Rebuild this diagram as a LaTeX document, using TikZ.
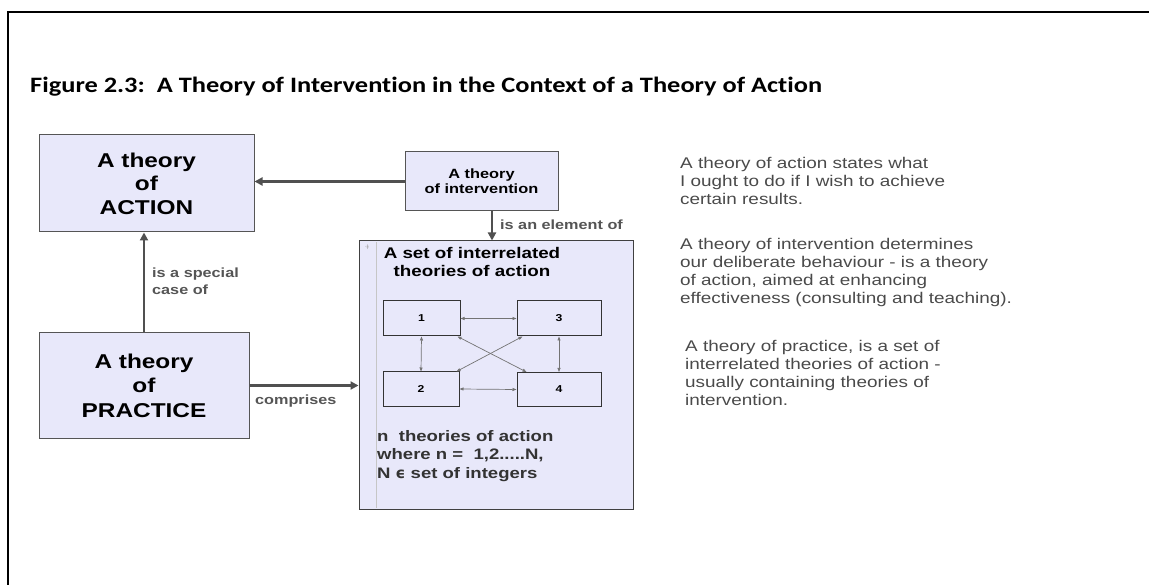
\documentclass[tikz,border=0pt]{standalone}
\usepackage{fontspec}
\setmainfont[FakeStretch=1.22]{Liberation Sans}
\newfontfamily\titlefont[FakeStretch=1.2,Ligatures=NoCommon]{Carlito}
\newfontfamily\markfont{DejaVu Sans}
\usetikzlibrary{arrows.meta,calc}

\definecolor{boxfill}{HTML}{E8E8FA}
\definecolor{boxline}{HTML}{555555}
\definecolor{arrowgray}{HTML}{505050}
\definecolor{labelgray}{HTML}{555555}
\definecolor{notegray}{HTML}{4A4A4A}

\tikzset{
  theorybox/.style={draw=boxline, fill=boxfill, line width=1pt, inner sep=0pt,
    align=center, font=\bfseries\fontsize{20}{23.5}\selectfont},
  interventionbox/.style={draw=boxline, fill=boxfill, line width=1pt, inner sep=0pt,
    align=center, font=\bfseries\fontsize{13.4}{15}\selectfont},
  setbox/.style={draw=black!75, fill=boxfill, line width=1pt, inner sep=0pt},
  numbox/.style={draw=black!80, fill=boxfill, line width=1pt, inner sep=0pt,
    font=\bfseries\fontsize{10}{12}\selectfont},
  bigarrow/.style={draw=arrowgray, line width=2.6pt, -{Triangle[length=8pt,width=8pt]}},
  smallarrow/.style={draw=gray!90!black, line width=0.7pt,
    {Triangle[length=4pt,width=3pt]}-{Triangle[length=4pt,width=3pt]}},
  linklabel/.style={text=labelgray, inner sep=0pt, align=left,
    font=\bfseries\fontsize{13.3}{17}\selectfont},
  note/.style={text=notegray, inner sep=0pt, align=left, anchor=north west,
    font=\fontsize{15.5}{18}\selectfont},
}

\begin{document}
\begin{tikzpicture}[x=1pt,y=-1pt]
  \useasboundingbox (0,0) rectangle (1149,585);
  \clip (0,0) rectangle (1149,585);

  % open frame along the top and left edges
  \draw[line width=2pt] (8,600) -- (8,12) -- (1160,12);

  % heading
  \node[anchor=base west, inner sep=0pt, font=\titlefont\bfseries\fontsize{22}{26}\selectfont]
    (title) at (30,93) {Figure 2.3:\ \ A Theory of Intervention in the Context of a Theory of Action};

  % main boxes
  \node[theorybox, minimum width=215pt, minimum height=97pt] (act) at (146.5,183.5)
    {A theory\\of\\ACTION};
  \node[theorybox, minimum width=210pt, minimum height=105pt,
        font=\bfseries\fontsize{20}{24.5}\selectfont] (prac) at (144,385.5)
    {A theory\\of\\PRACTICE};
  \node[interventionbox, minimum width=153pt, minimum height=59pt] (intv) at (481.5,181.5)
    {A theory\\of intervention};
  \node[setbox, minimum width=274pt, minimum height=268pt] (set) at (496,375) {};

  % margin rule and marker of the set box
  \draw[gray!45, line width=1pt] ([xshift=18pt,yshift=-2pt]set.north west) -- ([xshift=18pt,yshift=2pt]set.south west);
  \node[text=gray!80, inner sep=0pt, font=\markfont\fontsize{5}{6}\selectfont] (mark) at (367,247) {·ǂ};

  \node[inner sep=0pt, align=center, font=\bfseries\fontsize{15.4}{17.5}\selectfont] (settitle)
    at (472,262) {A set of interrelated\\theories of action};

  % the four theories of action
  \node[numbox, minimum width=77pt, minimum height=35pt] (b1) at (421.5,318.5) {1};
  \node[numbox, minimum width=84pt, minimum height=35pt] (b3) at (559,318.5) {3};
  \node[numbox, minimum width=76pt, minimum height=34pt] (b2) at (421,389) {2};
  \node[numbox, minimum width=84pt, minimum height=34pt] (b4) at (559,389.5) {4};

  \draw[smallarrow] (b1.east) -- (b3.west);
  \draw[smallarrow] (b2.east) -- (b4.west);
  \draw[smallarrow] (b1.south) -- (b2.north);
  \draw[smallarrow] (b3.south) -- (b4.north);
  \draw[smallarrow] ([xshift=-3pt]b1.south east) -- ([xshift=10pt]b4.north west);
  \draw[smallarrow] ([xshift=6pt]b3.south west) -- ([xshift=-3pt]b2.north east);

  \node[anchor=north west, inner sep=0pt, align=left, text=black!80,
        font=\bfseries\fontsize{15.2}{18.5}\selectfont] (ntext) at (377,430)
    {n\ \ theories of action\\where n =\ \ 1,2.....N,\\N {\markfont ϵ} set of integers};

  % relations between the boxes
  \draw[bigarrow] (intv.west) -- (intv.west -| act.east);
  \draw[bigarrow] (prac.north) -- (prac.north |- act.south);
  \draw[bigarrow] (prac.east) -- (prac.east -| set.west);
  \coordinate (e0) at ($(intv.south)+(10.5,0)$);
  \draw[bigarrow] (e0) -- (e0 |- set.north);

  \node[linklabel, anchor=west] (l1) at (500,225) {is an element of};
  \node[linklabel, anchor=west] (l2) at (152,281.5) {is a special\\case of};
  \node[linklabel, anchor=west] (l3) at (255,401) {comprises};

  % explanatory notes
  \node[note] (n1) at (680,157)
    {A theory of action states what\\I ought to do if I wish to achieve\\certain results.};
  \node[note] (n2) at (680,238)
    {A theory of intervention determines\\our deliberate behaviour - is a theory\\of action, aimed at enhancing\\effectiveness (consulting and teaching).};
  \node[note] (n3) at (685,340)
    {A theory of practice, is a set of\\interrelated theories of action -\\usually containing theories of\\intervention.};
\end{tikzpicture}
\end{document}
